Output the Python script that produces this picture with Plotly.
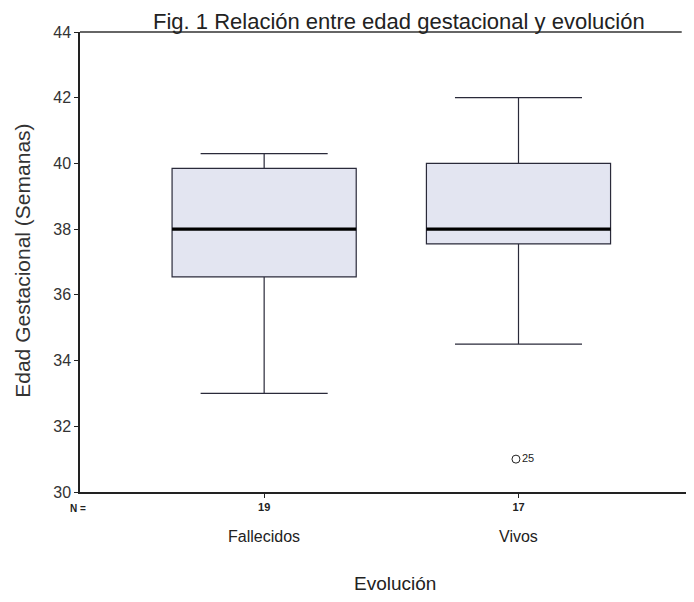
import plotly.graph_objects as go

categories = ["Fallecidos", "Vivos"]
n_counts = ["19", "17"]
lower_whisker = [33.0, 34.5]
q1 = [36.55, 37.55]
median = [38.0, 38.0]
q3 = [39.85, 40.0]
upper_whisker = [40.3, 42.0]
outlier_cat = [1]
outlier_val = [31.0]
outlier_label = ["25"]

FONT = "Liberation Sans, Arial, sans-serif"
BOX_W = 0.724
xs = list(range(len(categories)))

fig = go.Figure()
for i, c in enumerate(categories):
    fig.add_trace(go.Box(
        x=[xs[i]], q1=[q1[i]], median=[median[i]], q3=[q3[i]],
        lowerfence=[lower_whisker[i]], upperfence=[upper_whisker[i]],
        width=BOX_W, whiskerwidth=0.69, boxpoints=False,
        fillcolor="#e3e5f1", line=dict(color="#2a2a3a", width=1.2),
        showlegend=False, hoverinfo="skip", name=c,
    ))
    fig.add_trace(go.Scatter(
        x=[xs[i] - BOX_W / 2, xs[i] + BOX_W / 2], y=[median[i], median[i]],
        mode="lines", line=dict(color="#000000", width=3.2),
        showlegend=False, hoverinfo="skip",
    ))

fig.add_trace(go.Scatter(
    x=[xs[c] - 0.01 for c in outlier_cat], y=outlier_val, mode="markers+text",
    marker=dict(symbol="circle-open", size=8, color="#222", line=dict(width=1)),
    text=outlier_label, textposition="middle right",
    textfont=dict(family=FONT, size=11, color="#222"),
    showlegend=False, hoverinfo="skip",
))

# page body has an 8px margin: shrink figure so plot area lands at 80..694 x 32..492
fig.update_layout(
    width=686, height=594,
    margin=dict(l=72, r=0, t=24, b=110),
    paper_bgcolor="white", plot_bgcolor="white",
    font=dict(family=FONT, color="#222"),
)
fig.update_xaxes(
    range=[-0.724, 1.69], tickvals=xs, ticktext=["<b>%s</b>" % n for n in n_counts],
    tickfont=dict(size=11, color="#222"), ticks="outside", ticklen=4,
    tickcolor="#222", showline=True, linecolor="#222", linewidth=1.5,
    showgrid=False, zeroline=False,
)
fig.update_yaxes(
    range=[30, 44], dtick=2, ticks="outside", ticklen=4, tickcolor="#222",
    tickfont=dict(size=16, color="#333"), showline=True, linecolor="#222",
    linewidth=1.5, mirror=False, showgrid=False, zeroline=False,
)

annotations = [
    dict(text="Fig. 1 Relación entre edad gestacional y evolución", x=0.52, y=1.0,
         xref="paper", yref="paper", xanchor="center", yanchor="bottom", yshift=-4,
         showarrow=False, font=dict(size=22, color="#222")),
    dict(text="Edad Gestacional (Semanas)", textangle=-90, x=-0.095, y=0.502,
         xref="paper", yref="paper", xanchor="center", yanchor="middle",
         showarrow=False, font=dict(size=21, color="#333")),
    dict(text="Evolución", x=0.513, y=-0.198, xref="paper", yref="paper",
         xanchor="center", yanchor="middle",
         showarrow=False, font=dict(size=19, color="#222")),
    dict(text="<b>N =</b>", x=-0.003, y=-0.035, xref="paper", yref="paper",
         xanchor="center", yanchor="middle",
         showarrow=False, font=dict(size=10, color="#222")),
]
for i, c in enumerate(categories):
    annotations.append(dict(text=c, x=xs[i], y=-0.096, xref="x", yref="paper",
                            xanchor="center", yanchor="middle",
                            showarrow=False, font=dict(size=16, color="#222")))
fig.update_layout(annotations=annotations)

# top frame line (acts as title underline)
fig.add_shape(type="line", xref="paper", yref="paper", x0=0, x1=0.98, y0=1, y1=1,
              line=dict(color="#333", width=1.5))

fig.write_html("out.html")
